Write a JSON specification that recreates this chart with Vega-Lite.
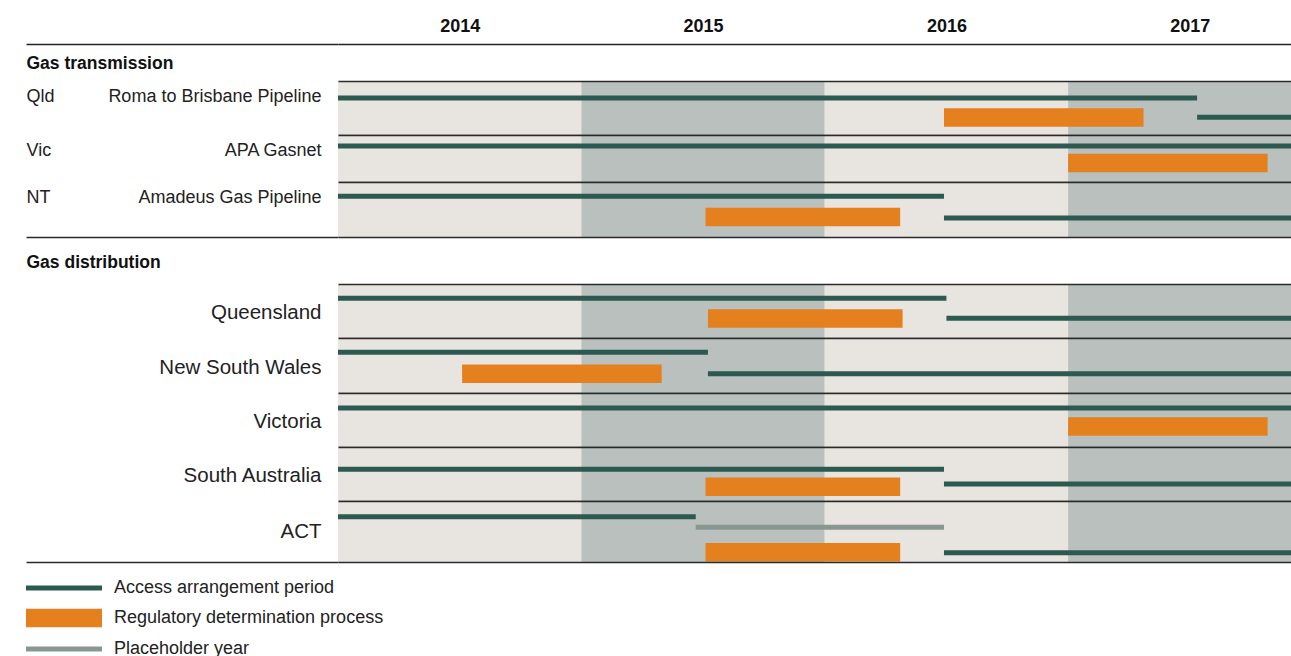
{
  "$schema": "https://vega.github.io/schema/vega-lite/v6.json",
  "padding": {"left": 25, "top": 17, "right": 0, "bottom": 0},
  "config": {"view": {"stroke": null}, "font": "Liberation Sans"},
  "bounds": "flush",
  "spacing": 0,
  "resolve": {"scale": {"color": "independent", "shape": "independent"}, "legend": {"color": "independent", "shape": "independent"}},
  "datasets": {
    "years": [
      {"year": 2014, "start": 2014, "end": 2015},
      {"year": 2015, "start": 2015, "end": 2016},
      {"year": 2016, "start": 2016, "end": 2017},
      {"year": 2017, "start": 2017, "end": 2018}
    ],
    "bars": [
      {"row": "Roma to Brisbane Pipeline", "type": "Access arrangement period", "period": 1, "start": 2014, "end": 2017.53},
      {"row": "Roma to Brisbane Pipeline", "type": "Regulatory determination process", "period": 2, "start": 2016.49, "end": 2017.31},
      {"row": "Roma to Brisbane Pipeline", "type": "Access arrangement period", "period": 2, "start": 2017.53, "end": 2018},
      {"row": "APA Gasnet", "type": "Access arrangement period", "period": 1, "start": 2014, "end": 2018},
      {"row": "APA Gasnet", "type": "Regulatory determination process", "period": 2, "start": 2017.0, "end": 2017.82},
      {"row": "Amadeus Gas Pipeline", "type": "Access arrangement period", "period": 1, "start": 2014, "end": 2016.49},
      {"row": "Amadeus Gas Pipeline", "type": "Regulatory determination process", "period": 2, "start": 2015.51, "end": 2016.31},
      {"row": "Amadeus Gas Pipeline", "type": "Access arrangement period", "period": 2, "start": 2016.49, "end": 2018},
      {"row": "Queensland", "type": "Access arrangement period", "period": 1, "start": 2014, "end": 2016.5},
      {"row": "Queensland", "type": "Regulatory determination process", "period": 2, "start": 2015.52, "end": 2016.32},
      {"row": "Queensland", "type": "Access arrangement period", "period": 2, "start": 2016.5, "end": 2018},
      {"row": "New South Wales", "type": "Access arrangement period", "period": 1, "start": 2014, "end": 2015.52},
      {"row": "New South Wales", "type": "Regulatory determination process", "period": 2, "start": 2014.51, "end": 2015.33},
      {"row": "New South Wales", "type": "Access arrangement period", "period": 2, "start": 2015.52, "end": 2018},
      {"row": "Victoria", "type": "Access arrangement period", "period": 1, "start": 2014, "end": 2018},
      {"row": "Victoria", "type": "Regulatory determination process", "period": 2, "start": 2017.0, "end": 2017.82},
      {"row": "South Australia", "type": "Access arrangement period", "period": 1, "start": 2014, "end": 2016.49},
      {"row": "South Australia", "type": "Regulatory determination process", "period": 2, "start": 2015.51, "end": 2016.31},
      {"row": "South Australia", "type": "Access arrangement period", "period": 2, "start": 2016.49, "end": 2018},
      {"row": "ACT", "type": "Access arrangement period", "period": 1, "start": 2014, "end": 2015.47},
      {"row": "ACT", "type": "Placeholder year", "period": 1, "start": 2015.47, "end": 2016.49},
      {"row": "ACT", "type": "Regulatory determination process", "period": 2, "start": 2015.51, "end": 2016.31},
      {"row": "ACT", "type": "Access arrangement period", "period": 2, "start": 2016.49, "end": 2018}
    ]
  },
  "vconcat": [
    {
      "width": 954, "height": 37,
      "data": {"name": "years"},
      "mark": {"type": "rect", "opacity": 0},
      "encoding": {
        "x": {"field": "start", "type": "quantitative", "scale": {"domain": [2014, 2017.92], "nice": false, "zero": false},
          "axis": {"orient": "top", "values": [2014.5, 2015.5, 2016.5, 2017.5], "labelExpr": "format(floor(datum.value), 'd')", "domain": true, "domainColor": "#222", "domainWidth": 1.5, "ticks": false, "grid": false, "labelFontSize": 18, "labelFontWeight": "bold", "labelColor": "#111", "labelPadding": 9, "labelFlush": false, "labelOverlap": false, "title": null}},
        "x2": {"field": "end"},
        "y": {"datum": "Gas transmission", "type": "nominal", "scale": {"type": "band", "paddingInner": 0, "paddingOuter": 0},
          "axis": {"orient": "left", "domain": false, "grid": false, "tickBand": "extent", "ticks": true, "tickSize": 312, "tickColor": "#222", "tickWidth": 1.5, "tickOpacity": {"condition": {"test": "datum.index < 0", "value": 1}, "value": 0}, "labelAlign": "left", "labelBaseline": "middle", "labelPadding": 0, "labelFontSize": 17.5, "labelFontWeight": "bold", "labelColor": "#111", "labelOffset": 1, "labelLimit": 0, "title": null}}
      }
    },
    {
      "width": 954, "height": 54,
      "encoding": {"x": {"field": "start", "type": "quantitative", "scale": {"domain": [2014, 2017.92], "nice": false, "zero": false}, "axis": null}, "x2": {"field": "end"}},
      "layer": [
        {"data": {"name": "years"}, "mark": {"type": "rect", "clip": true}, "encoding": {"color": {"condition": {"test": "datum.year % 2 == 1", "value": "#b9c0bd"}, "value": "#e8e4e0"}}},
        {"data": {"name": "bars"}, "transform": [{"filter": "datum.row=='Roma to Brisbane Pipeline'&&datum.type=='Access arrangement period'&&datum.period==1"}], "mark": {"type": "rule", "clip": true, "color": "#2d5a50", "strokeWidth": 5},
          "encoding": {"y": {"field": "row", "type": "nominal", "bandPosition": 0.315, "scale": {"type": "band", "paddingInner": 0, "paddingOuter": 0},
            "axis": {"orient": "left", "domain": false, "grid": true, "gridColor": "#2a2a2a", "gridWidth": 1.5, "tickBand": "extent", "ticks": false, "labelAlign": "right", "labelBaseline": "middle", "labelPadding": 17, "labelFontSize": 18, "labelColor": "#222", "labelOffset": -11.5, "labelLimit": 0, "title": "Qld", "titleX": -312, "titleY": 15.5, "titleAngle": 0, "titleAlign": "left", "titleBaseline": "middle", "titleFontSize": 18, "titleFontWeight": "normal", "titleColor": "#222", "zindex": 1}}}},
        {"data": {"name": "bars"}, "transform": [{"filter": "datum.row=='Roma to Brisbane Pipeline'&&datum.type=='Regulatory determination process'"}], "mark": {"type": "rule", "clip": true, "color": "#e5801f", "strokeWidth": 18.5},
          "encoding": {"y": {"field": "row", "type": "nominal", "bandPosition": 0.676, "scale": {"type": "band", "paddingInner": 0, "paddingOuter": 0}}}},
        {"data": {"name": "bars"}, "transform": [{"filter": "datum.row=='Roma to Brisbane Pipeline'&&datum.type=='Access arrangement period'&&datum.period==2"}], "mark": {"type": "rule", "clip": true, "color": "#2d5a50", "strokeWidth": 5},
          "encoding": {"y": {"field": "row", "type": "nominal", "bandPosition": 0.672, "scale": {"type": "band", "paddingInner": 0, "paddingOuter": 0}}}}
      ]
    },
    {
      "width": 954, "height": 47,
      "encoding": {"x": {"field": "start", "type": "quantitative", "scale": {"domain": [2014, 2017.92], "nice": false, "zero": false}, "axis": null}, "x2": {"field": "end"}},
      "layer": [
        {"data": {"name": "years"}, "mark": {"type": "rect", "clip": true}, "encoding": {"color": {"condition": {"test": "datum.year % 2 == 1", "value": "#b9c0bd"}, "value": "#e8e4e0"}}},
        {"data": {"name": "bars"}, "transform": [{"filter": "datum.row=='APA Gasnet'&&datum.type=='Access arrangement period'&&datum.period==1"}], "mark": {"type": "rule", "clip": true, "color": "#2d5a50", "strokeWidth": 5},
          "encoding": {"y": {"field": "row", "type": "nominal", "bandPosition": 0.234, "scale": {"type": "band", "paddingInner": 0, "paddingOuter": 0},
            "axis": {"orient": "left", "domain": false, "grid": true, "gridColor": "#2a2a2a", "gridWidth": 1.5, "tickBand": "extent", "ticks": false, "labelAlign": "right", "labelBaseline": "middle", "labelPadding": 17, "labelFontSize": 18, "labelColor": "#222", "labelOffset": -8, "labelLimit": 0, "title": "Vic", "titleX": -312, "titleY": 15.5, "titleAngle": 0, "titleAlign": "left", "titleBaseline": "middle", "titleFontSize": 18, "titleFontWeight": "normal", "titleColor": "#222", "zindex": 1}}}},
        {"data": {"name": "bars"}, "transform": [{"filter": "datum.row=='APA Gasnet'&&datum.type=='Regulatory determination process'"}], "mark": {"type": "rule", "clip": true, "color": "#e5801f", "strokeWidth": 18.5},
          "encoding": {"y": {"field": "row", "type": "nominal", "bandPosition": 0.596, "scale": {"type": "band", "paddingInner": 0, "paddingOuter": 0}}}}
      ]
    },
    {
      "width": 954, "height": 55,
      "encoding": {"x": {"field": "start", "type": "quantitative", "scale": {"domain": [2014, 2017.92], "nice": false, "zero": false}, "axis": null}, "x2": {"field": "end"}},
      "layer": [
        {"data": {"name": "years"}, "mark": {"type": "rect", "clip": true}, "encoding": {"color": {"condition": {"test": "datum.year % 2 == 1", "value": "#b9c0bd"}, "value": "#e8e4e0"}}},
        {"data": {"name": "bars"}, "transform": [{"filter": "datum.row=='Amadeus Gas Pipeline'&&datum.type=='Access arrangement period'&&datum.period==1"}], "mark": {"type": "rule", "clip": true, "color": "#2d5a50", "strokeWidth": 5},
          "encoding": {"y": {"field": "row", "type": "nominal", "bandPosition": 0.26, "scale": {"type": "band", "paddingInner": 0, "paddingOuter": 0},
            "axis": {"orient": "left", "domain": false, "grid": true, "gridColor": "#2a2a2a", "gridWidth": 1.5, "tickBand": "extent", "ticks": true, "tickSize": 312, "tickColor": "#2a2a2a", "tickWidth": 1.5, "tickOpacity": {"condition": {"test": "datum.index >= 0", "value": 1}, "value": 0}, "labelAlign": "right", "labelBaseline": "middle", "labelPadding": -295, "labelFontSize": 18, "labelColor": "#222", "labelOffset": -12.5, "labelLimit": 0, "title": "NT", "titleX": -312, "titleY": 15, "titleAngle": 0, "titleAlign": "left", "titleBaseline": "middle", "titleFontSize": 18, "titleFontWeight": "normal", "titleColor": "#222", "zindex": 1}}}},
        {"data": {"name": "bars"}, "transform": [{"filter": "datum.row=='Amadeus Gas Pipeline'&&datum.type=='Regulatory determination process'"}], "mark": {"type": "rule", "clip": true, "color": "#e5801f", "strokeWidth": 18.5},
          "encoding": {"y": {"field": "row", "type": "nominal", "bandPosition": 0.636, "scale": {"type": "band", "paddingInner": 0, "paddingOuter": 0}}}},
        {"data": {"name": "bars"}, "transform": [{"filter": "datum.row=='Amadeus Gas Pipeline'&&datum.type=='Access arrangement period'&&datum.period==2"}], "mark": {"type": "rule", "clip": true, "color": "#2d5a50", "strokeWidth": 5},
          "encoding": {"y": {"field": "row", "type": "nominal", "bandPosition": 0.655, "scale": {"type": "band", "paddingInner": 0, "paddingOuter": 0}}}}
      ]
    },
    {
      "width": 954, "height": 47,
      "data": {"name": "years"},
      "mark": {"type": "rect", "opacity": 0},
      "encoding": {
        "x": {"field": "start", "type": "quantitative", "scale": {"domain": [2014, 2017.92], "nice": false, "zero": false}, "axis": null},
        "x2": {"field": "end"},
        "y": {"datum": "Gas distribution", "type": "nominal", "scale": {"type": "band", "paddingInner": 0, "paddingOuter": 0},
          "axis": {"orient": "left", "domain": false, "grid": false, "ticks": false, "labelAlign": "left", "labelBaseline": "middle", "labelPadding": 312, "labelFontSize": 17.5, "labelFontWeight": "bold", "labelColor": "#111", "labelOffset": 2.5, "labelLimit": 0, "title": null}}
      }
    },
    {
      "width": 954, "height": 54,
      "encoding": {"x": {"field": "start", "type": "quantitative", "scale": {"domain": [2014, 2017.92], "nice": false, "zero": false}, "axis": null}, "x2": {"field": "end"}},
      "layer": [
        {"data": {"name": "years"}, "mark": {"type": "rect", "clip": true}, "encoding": {"color": {"condition": {"test": "datum.year % 2 == 1", "value": "#b9c0bd"}, "value": "#e8e4e0"}}},
        {"data": {"name": "bars"}, "transform": [{"filter": "datum.row=='Queensland'&&datum.type=='Access arrangement period'&&datum.period==1"}], "mark": {"type": "rule", "clip": true, "color": "#2d5a50", "strokeWidth": 5},
          "encoding": {"y": {"field": "row", "type": "nominal", "bandPosition": 0.265, "scale": {"type": "band", "paddingInner": 0, "paddingOuter": 0},
            "axis": {"orient": "left", "domain": false, "grid": true, "gridColor": "#2a2a2a", "gridWidth": 1.5, "tickBand": "extent", "ticks": false, "labelAlign": "right", "labelBaseline": "middle", "labelPadding": 17, "labelFontSize": 20.5, "labelColor": "#222", "labelOffset": 1, "labelLimit": 0, "title": null, "zindex": 1}}}},
        {"data": {"name": "bars"}, "transform": [{"filter": "datum.row=='Queensland'&&datum.type=='Regulatory determination process'"}], "mark": {"type": "rule", "clip": true, "color": "#e5801f", "strokeWidth": 18.5},
          "encoding": {"y": {"field": "row", "type": "nominal", "bandPosition": 0.639, "scale": {"type": "band", "paddingInner": 0, "paddingOuter": 0}}}},
        {"data": {"name": "bars"}, "transform": [{"filter": "datum.row=='Queensland'&&datum.type=='Access arrangement period'&&datum.period==2"}], "mark": {"type": "rule", "clip": true, "color": "#2d5a50", "strokeWidth": 5},
          "encoding": {"y": {"field": "row", "type": "nominal", "bandPosition": 0.636, "scale": {"type": "band", "paddingInner": 0, "paddingOuter": 0}}}}
      ]
    },
    {
      "width": 954, "height": 55,
      "encoding": {"x": {"field": "start", "type": "quantitative", "scale": {"domain": [2014, 2017.92], "nice": false, "zero": false}, "axis": null}, "x2": {"field": "end"}},
      "layer": [
        {"data": {"name": "years"}, "mark": {"type": "rect", "clip": true}, "encoding": {"color": {"condition": {"test": "datum.year % 2 == 1", "value": "#b9c0bd"}, "value": "#e8e4e0"}}},
        {"data": {"name": "bars"}, "transform": [{"filter": "datum.row=='New South Wales'&&datum.type=='Access arrangement period'&&datum.period==1"}], "mark": {"type": "rule", "clip": true, "color": "#2d5a50", "strokeWidth": 5},
          "encoding": {"y": {"field": "row", "type": "nominal", "bandPosition": 0.26, "scale": {"type": "band", "paddingInner": 0, "paddingOuter": 0},
            "axis": {"orient": "left", "domain": false, "grid": true, "gridColor": "#2a2a2a", "gridWidth": 1.5, "tickBand": "extent", "ticks": false, "labelAlign": "right", "labelBaseline": "middle", "labelPadding": 17, "labelFontSize": 20.5, "labelColor": "#222", "labelOffset": 1.5, "labelLimit": 0, "title": null, "zindex": 1}}}},
        {"data": {"name": "bars"}, "transform": [{"filter": "datum.row=='New South Wales'&&datum.type=='Regulatory determination process'"}], "mark": {"type": "rule", "clip": true, "color": "#e5801f", "strokeWidth": 18.5},
          "encoding": {"y": {"field": "row", "type": "nominal", "bandPosition": 0.651, "scale": {"type": "band", "paddingInner": 0, "paddingOuter": 0}}}},
        {"data": {"name": "bars"}, "transform": [{"filter": "datum.row=='New South Wales'&&datum.type=='Access arrangement period'&&datum.period==2"}], "mark": {"type": "rule", "clip": true, "color": "#2d5a50", "strokeWidth": 5},
          "encoding": {"y": {"field": "row", "type": "nominal", "bandPosition": 0.649, "scale": {"type": "band", "paddingInner": 0, "paddingOuter": 0}}}}
      ]
    },
    {
      "width": 954, "height": 54,
      "encoding": {"x": {"field": "start", "type": "quantitative", "scale": {"domain": [2014, 2017.92], "nice": false, "zero": false}, "axis": null}, "x2": {"field": "end"}},
      "layer": [
        {"data": {"name": "years"}, "mark": {"type": "rect", "clip": true}, "encoding": {"color": {"condition": {"test": "datum.year % 2 == 1", "value": "#b9c0bd"}, "value": "#e8e4e0"}}},
        {"data": {"name": "bars"}, "transform": [{"filter": "datum.row=='Victoria'&&datum.type=='Access arrangement period'&&datum.period==1"}], "mark": {"type": "rule", "clip": true, "color": "#2d5a50", "strokeWidth": 5},
          "encoding": {"y": {"field": "row", "type": "nominal", "bandPosition": 0.278, "scale": {"type": "band", "paddingInner": 0, "paddingOuter": 0},
            "axis": {"orient": "left", "domain": false, "grid": true, "gridColor": "#2a2a2a", "gridWidth": 1.5, "tickBand": "extent", "ticks": false, "labelAlign": "right", "labelBaseline": "middle", "labelPadding": 17, "labelFontSize": 20.5, "labelColor": "#222", "labelOffset": 1, "labelLimit": 0, "title": null, "zindex": 1}}}},
        {"data": {"name": "bars"}, "transform": [{"filter": "datum.row=='Victoria'&&datum.type=='Regulatory determination process'"}], "mark": {"type": "rule", "clip": true, "color": "#e5801f", "strokeWidth": 18.5},
          "encoding": {"y": {"field": "row", "type": "nominal", "bandPosition": 0.62, "scale": {"type": "band", "paddingInner": 0, "paddingOuter": 0}}}}
      ]
    },
    {
      "width": 954, "height": 54,
      "encoding": {"x": {"field": "start", "type": "quantitative", "scale": {"domain": [2014, 2017.92], "nice": false, "zero": false}, "axis": null}, "x2": {"field": "end"}},
      "layer": [
        {"data": {"name": "years"}, "mark": {"type": "rect", "clip": true}, "encoding": {"color": {"condition": {"test": "datum.year % 2 == 1", "value": "#b9c0bd"}, "value": "#e8e4e0"}}},
        {"data": {"name": "bars"}, "transform": [{"filter": "datum.row=='South Australia'&&datum.type=='Access arrangement period'&&datum.period==1"}], "mark": {"type": "rule", "clip": true, "color": "#2d5a50", "strokeWidth": 5},
          "encoding": {"y": {"field": "row", "type": "nominal", "bandPosition": 0.413, "scale": {"type": "band", "paddingInner": 0, "paddingOuter": 0},
            "axis": {"orient": "left", "domain": false, "grid": true, "gridColor": "#2a2a2a", "gridWidth": 1.5, "tickBand": "extent", "ticks": false, "labelAlign": "right", "labelBaseline": "middle", "labelPadding": 17, "labelFontSize": 20.5, "labelColor": "#222", "labelOffset": 1, "labelLimit": 0, "title": null, "zindex": 1}}}},
        {"data": {"name": "bars"}, "transform": [{"filter": "datum.row=='South Australia'&&datum.type=='Regulatory determination process'"}], "mark": {"type": "rule", "clip": true, "color": "#e5801f", "strokeWidth": 18.5},
          "encoding": {"y": {"field": "row", "type": "nominal", "bandPosition": 0.735, "scale": {"type": "band", "paddingInner": 0, "paddingOuter": 0}}}},
        {"data": {"name": "bars"}, "transform": [{"filter": "datum.row=='South Australia'&&datum.type=='Access arrangement period'&&datum.period==2"}], "mark": {"type": "rule", "clip": true, "color": "#2d5a50", "strokeWidth": 5},
          "encoding": {"y": {"field": "row", "type": "nominal", "bandPosition": 0.685, "scale": {"type": "band", "paddingInner": 0, "paddingOuter": 0}}}}
      ]
    },
    {
      "width": 954, "height": 61,
      "encoding": {"x": {"field": "start", "type": "quantitative", "scale": {"domain": [2014, 2017.92], "nice": false, "zero": false}, "axis": null}, "x2": {"field": "end"}},
      "layer": [
        {"data": {"name": "years"}, "mark": {"type": "rect", "clip": true}, "encoding": {"color": {"condition": {"test": "datum.year % 2 == 1", "value": "#b9c0bd"}, "value": "#e8e4e0"}}},
        {"data": {"name": "bars"}, "transform": [{"filter": "datum.row=='ACT'&&datum.type=='Access arrangement period'&&datum.period==1"}], "mark": {"type": "rule", "clip": true, "color": "#2d5a50", "strokeWidth": 5},
          "encoding": {"y": {"field": "row", "type": "nominal", "bandPosition": 0.257, "scale": {"type": "band", "paddingInner": 0, "paddingOuter": 0},
            "axis": {"orient": "left", "domain": false, "grid": true, "gridColor": "#2a2a2a", "gridWidth": 1.5, "tickBand": "extent", "ticks": true, "tickSize": 312, "tickColor": "#2a2a2a", "tickWidth": 1.5, "tickOpacity": {"condition": {"test": "datum.index >= 0", "value": 1}, "value": 0}, "labelAlign": "right", "labelBaseline": "middle", "labelPadding": -295, "labelFontSize": 20.5, "labelColor": "#222", "labelOffset": 0, "labelLimit": 0, "title": null, "zindex": 1}}}},
        {"data": {"name": "bars"}, "transform": [{"filter": "datum.row=='ACT'&&datum.type=='Placeholder year'"}], "mark": {"type": "rule", "clip": true, "color": "#879891", "strokeWidth": 5},
          "encoding": {"y": {"field": "row", "type": "nominal", "bandPosition": 0.431, "scale": {"type": "band", "paddingInner": 0, "paddingOuter": 0}}}},
        {"data": {"name": "bars"}, "transform": [{"filter": "datum.row=='ACT'&&datum.type=='Regulatory determination process'"}], "mark": {"type": "rule", "clip": true, "color": "#e5801f", "strokeWidth": 18.5},
          "encoding": {"y": {"field": "row", "type": "nominal", "bandPosition": 0.839, "scale": {"type": "band", "paddingInner": 0, "paddingOuter": 0}}}},
        {"data": {"name": "bars"}, "transform": [{"filter": "datum.row=='ACT'&&datum.type=='Access arrangement period'&&datum.period==2"}], "mark": {"type": "rule", "clip": true, "color": "#2d5a50", "strokeWidth": 5},
          "encoding": {"y": {"field": "row", "type": "nominal", "bandPosition": 0.847, "scale": {"type": "band", "paddingInner": 0, "paddingOuter": 0}}}}
      ]
    },
    {
      "width": 954, "height": 10,
      "data": {"name": "bars"},
      "transform": [{"filter": "false"}],
      "mark": {"type": "point", "filled": true, "opacity": 1},
      "encoding": {
        "color": {"field": "type", "type": "nominal",
          "scale": {"domain": ["Access arrangement period", "Regulatory determination process", "Placeholder year"], "range": ["#2d5a50", "#e5801f", "#879891"]},
          "legend": {"orient": "none", "legendX": -284, "legendY": 16, "title": null, "direction": "vertical", "symbolSize": 400, "symbolStrokeWidth": 0, "symbolOpacity": 1, "labelFontSize": 18, "labelColor": "#222", "labelOffset": 40, "rowPadding": 11, "padding": 0, "labelLimit": 0}},
        "shape": {"field": "type", "type": "nominal",
          "scale": {"domain": ["Access arrangement period", "Regulatory determination process", "Placeholder year"], "range": ["M-3.8,-0.25H3.8V0.25H-3.8Z", "M-3.8,-0.935H3.8V0.935H-3.8Z", "M-3.8,-0.25H3.8V0.25H-3.8Z"]},
          "legend": {"orient": "none", "legendX": -284, "legendY": 16, "title": null, "direction": "vertical", "symbolSize": 400, "symbolStrokeWidth": 0, "symbolOpacity": 1, "labelFontSize": 18, "labelColor": "#222", "labelOffset": 40, "rowPadding": 11, "padding": 0, "labelLimit": 0}}
      }
    }
  ]
}
